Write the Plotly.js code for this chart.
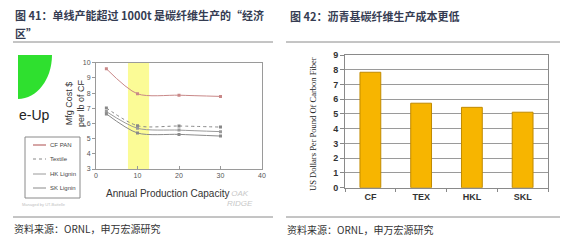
<!DOCTYPE html>
<html>
<head>
<meta charset="utf-8">
<script src="https://cdn.plot.ly/plotly-3.0.1.min.js"></script>
<style>html,body{margin:0;padding:0;background:#fff;}#chart{width:566px;height:247px;}</style>
</head>
<body>
<div id="chart"></div>
<script>
// ---- data ----
const capacity = [2.5, 10, 20, 30];
const cfPan = [9.6, 7.95, 7.86, 7.78];
const textile = [7.02, 5.85, 5.83, 5.76];
const hkLignin = [6.78, 5.68, 5.56, 5.46];
const skLignin = [6.63, 5.37, 5.28, 5.17];
const seriesNames = ['CF PAN', 'Textile', 'HK Lignin', 'SK Lignin'];
const fiberTypes = ['CF', 'TEX', 'HKL', 'SKL'];
const costPerPound = [7.83, 5.73, 5.45, 5.12];
const xTicks = [0, 10, 20, 30, 40];
const yTicksLeft = [3, 4, 5, 6, 7, 8, 9, 10];
const yTicksRight = [0, 1, 2, 3, 4, 5, 6, 7, 8, 9];

const W = 566, H = 247;
const px = x => x / W, py = y => 1 - y / H;

const lineStyles = [
  {color: '#c98888', dash: 'solid'},
  {color: '#888888', dash: 'dot'},
  {color: '#9a9a9a', dash: 'solid'},
  {color: '#8a8a8a', dash: 'solid'}
];
const seriesVals = [cfPan, textile, hkLignin, skLignin];

const traces = seriesVals.map((v, i) => ({
  type: 'scatter', mode: 'lines+markers', x: capacity, y: v,
  name: seriesNames[i], xaxis: 'x', yaxis: 'y', showlegend: false,
  line: {shape: 'spline', smoothing: 0.8, width: 1, color: lineStyles[i].color, dash: lineStyles[i].dash},
  marker: {size: 3, color: lineStyles[i].color, symbol: 'square'}
}));

traces.push({
  type: 'bar', x: fiberTypes, y: costPerPound, xaxis: 'x2', yaxis: 'y2', showlegend: false,
  marker: {color: '#f7b500', line: {color: '#c08a00', width: 1}}
});

const tickFontL = {family: 'Liberation Sans, Arial', size: 7, color: '#555'};
const tickFontR = {family: 'Liberation Sans, Arial', size: 9, color: '#333', weight: 'bold'};
const cjk = 'Noto Sans CJK SC, sans-serif';

const shapes = [
  {type: 'rect', xref: 'x', yref: 'y domain', x0: 7.7, x1: 12.8, y0: 0, y1: 1, fillcolor: '#fbfb96', line: {width: 0}, layer: 'below'},
  {type: 'line', xref: 'paper', yref: 'paper', x0: px(13), x1: px(273), y0: py(42), y1: py(42), line: {color: '#8a8a8a', width: 1}},
  {type: 'line', xref: 'paper', yref: 'paper', x0: px(286), x1: px(560), y0: py(42), y1: py(42), line: {color: '#8a8a8a', width: 1}},
  {type: 'line', xref: 'paper', yref: 'paper', x0: px(13), x1: px(273), y0: py(217), y1: py(217), line: {color: '#8a8a8a', width: 1}},
  {type: 'line', xref: 'paper', yref: 'paper', x0: px(286), x1: px(560), y0: py(217), y1: py(217), line: {color: '#8a8a8a', width: 1}},
  {type: 'rect', xref: 'paper', yref: 'paper', x0: px(25), x1: px(80), y0: py(198), y1: py(137), line: {color: '#8a8a8a', width: 1}, fillcolor: 'rgba(0,0,0,0)'}
];

(function () {
  const cx = 18, cy = 55, rx = 34, ry = 44, k = 0.5523;
  const p = (x, y) => px(x) + ',' + py(y);
  const path = 'M' + p(cx, cy) + ' L' + p(cx + rx, cy) +
    ' C' + p(cx + rx, cy + ry * k) + ' ' + p(cx + rx * k, cy + ry) + ' ' + p(cx, cy + ry) + ' Z';
  shapes.push({type: 'path', xref: 'paper', yref: 'paper', path: path, fillcolor: '#2fe02f', line: {width: 0}});
})();

const legendRows = [145, 159, 174, 188];
seriesNames.forEach((n, i) => {
  shapes.push({type: 'line', xref: 'paper', yref: 'paper', x0: px(33), x1: px(46), y0: py(legendRows[i]), y1: py(legendRows[i]),
    line: {color: lineStyles[i].color, width: i === 0 ? 1.5 : 1, dash: lineStyles[i].dash}});
});

const annotations = [
  {text: '<b>图 41：单线产能超过 1000t 是碳纤维生产的“经济</b>', xref: 'paper', yref: 'paper', x: px(13), y: py(15), xanchor: 'left', yanchor: 'middle', align: 'left', showarrow: false,
    font: {family: cjk, size: 11, color: '#353c52'}},
  {text: '<b>区”</b>', xref: 'paper', yref: 'paper', x: px(13), y: py(33), xanchor: 'left', yanchor: 'middle', align: 'left', showarrow: false,
    font: {family: cjk, size: 11, color: '#353c52'}},
  {text: '<b>图 42：沥青基碳纤维生产成本更低</b>', xref: 'paper', yref: 'paper', x: px(288), y: py(16), xanchor: 'left', yanchor: 'middle', align: 'left', showarrow: false,
    font: {family: cjk, size: 11, color: '#353c52'}},
  {text: '资料来源：ORNL，申万宏源研究', xref: 'paper', yref: 'paper', x: px(12), y: py(228), xanchor: 'left', yanchor: 'middle', showarrow: false,
    font: {family: cjk, size: 10, color: '#333'}},
  {text: '资料来源：ORNL，申万宏源研究', xref: 'paper', yref: 'paper', x: px(285), y: py(229), xanchor: 'left', yanchor: 'middle', showarrow: false,
    font: {family: cjk, size: 10, color: '#333'}},
  {text: 'e-Up', xref: 'paper', yref: 'paper', x: px(17), y: py(115), xanchor: 'left', yanchor: 'middle', showarrow: false,
    font: {family: 'Liberation Sans, Arial', size: 14, color: '#222'}},
  {text: 'Mfg Cost $<br>per lb of CF', xref: 'paper', yref: 'paper', x: px(75), y: py(103), textangle: -90, xanchor: 'center', yanchor: 'middle', showarrow: false,
    font: {family: 'Liberation Sans, Arial', size: 9, color: '#333'}},
  {text: 'Annual Production Capacity', xref: 'paper', yref: 'paper', x: px(167), y: py(193), xanchor: 'center', yanchor: 'middle', showarrow: false,
    font: {family: 'Liberation Sans, Arial', size: 10, color: '#333'}},
  {text: '<i>OAK<br>RIDGE</i>', xref: 'paper', yref: 'paper', x: px(240), y: py(198), xanchor: 'center', yanchor: 'middle', showarrow: false,
    font: {family: 'Liberation Sans, Arial', size: 8, color: '#c8c8c8'}},
  {text: 'Managed by UT-Battelle', xref: 'paper', yref: 'paper', x: px(20), y: py(204), xanchor: 'left', yanchor: 'middle', showarrow: false,
    font: {family: 'Liberation Sans, Arial', size: 4, color: '#c0c0c0'}},
  {text: 'US Dollars Per Pound Of Carbon Fiber', xref: 'paper', yref: 'paper', x: px(313), y: py(124), textangle: -90, xanchor: 'center', yanchor: 'middle', showarrow: false,
    font: {family: 'Liberation Serif, Times New Roman', size: 8.5, color: '#222'}}
];
seriesNames.forEach((n, i) => {
  annotations.push({text: n, xref: 'paper', yref: 'paper', x: px(48), y: py(legendRows[i]), xanchor: 'left', yanchor: 'middle', showarrow: false,
    font: {family: 'Liberation Sans, Arial', size: 6, color: '#444'}});
});

const layout = {
  width: W, height: H, margin: {l: 0, r: 0, t: 0, b: 0},
  paper_bgcolor: '#fff', plot_bgcolor: 'rgba(0,0,0,0)', showlegend: false,
  xaxis: {domain: [px(96), px(262)], range: [0, 40], tickvals: xTicks, ticks: 'inside', ticklen: 3, tickcolor: '#999',
    showline: true, mirror: true, linecolor: '#9a9a9a', linewidth: 1, showgrid: false, zeroline: false, tickfont: tickFontL, anchor: 'y'},
  yaxis: {domain: [py(169), py(62.7)], range: [3, 10], tickvals: yTicksLeft, ticks: 'outside', ticklen: 3, tickcolor: '#999',
    showline: true, mirror: true, linecolor: '#9a9a9a', linewidth: 1, showgrid: false, zeroline: false, tickfont: tickFontL, anchor: 'x'},
  xaxis2: {domain: [px(345), px(548)], tickfont: tickFontR, ticks: 'outside', tickson: 'boundaries', ticklen: 3, tickcolor: '#888',
    showline: true, mirror: true, linecolor: '#8a8a8a', linewidth: 1, anchor: 'y2'},
  yaxis2: {domain: [py(187.7), py(55)], range: [0, 9], tickvals: yTicksRight, ticks: 'outside', ticklen: 4, tickcolor: '#888',
    showline: true, mirror: true, linecolor: '#8a8a8a', linewidth: 1, showgrid: true, gridcolor: '#9a9a9a', gridwidth: 1,
    zeroline: false, tickfont: tickFontR, anchor: 'x2'},
  bargap: 0.59,
  shapes: shapes, annotations: annotations
};

Plotly.newPlot('chart', traces, layout, {staticPlot: true, displayModeBar: false});
</script>
</body>
</html>
